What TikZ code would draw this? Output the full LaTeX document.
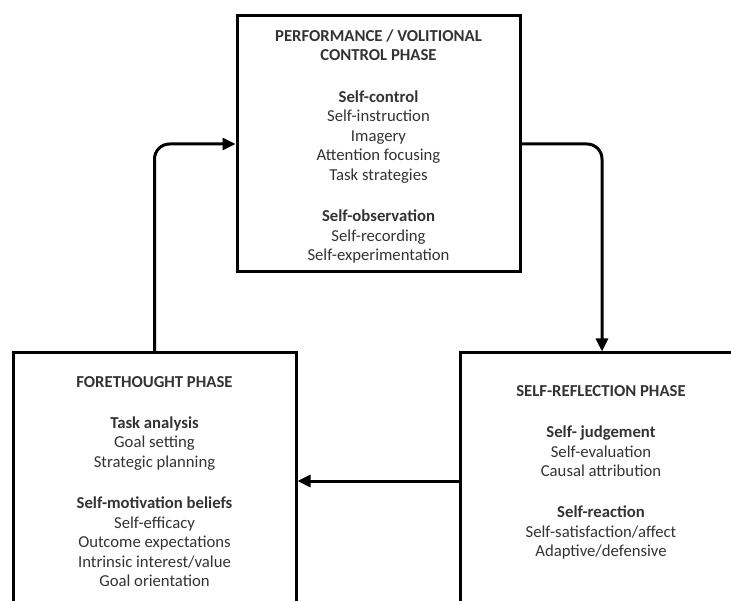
\documentclass[tikz,border=0pt]{standalone}
\usepackage{fontspec}
\setmainfont{Carlito}
\usetikzlibrary{arrows.meta}
\definecolor{txt}{RGB}{51,51,51}
\newcommand{\gapline}{\\[21.5pt]}
\begin{document}
\begin{tikzpicture}[x=1pt,y=-1pt,
  box/.style={draw=black,line width=3pt,minimum width=283pt,minimum height=256pt,inner sep=0pt},
  label text/.style={align=center,text=txt,inner sep=0pt,font=\fontsize{16.7}{19.6}\selectfont},
  conn/.style={draw=black,line width=3pt,rounded corners=15pt,-{Triangle[length=13pt,width=12pt]}}]
\useasboundingbox (0,0) rectangle (731,601);
\clip (0,0) rectangle (731,601);
\node[box] (perf) at (378.5,144) {};
\node[box] (fore) at (154.5,481) {};
\node[box] (refl) at (602,481) {};
\node[label text] (perft) at (378.5,146.5) {\textbf{PERFORMANCE / VOLITIONAL}\\\textbf{CONTROL PHASE}\gapline
  \textbf{Self-control}\\Self-instruction\\Imagery\\Attention focusing\\Task strategies\gapline
  \textbf{Self-observation}\\Self-recording\\Self-experimentation};
\node[label text] (foret) at (154.5,481.5) {\textbf{FORETHOUGHT PHASE}\gapline
  \textbf{Task analysis}\\Goal setting\\Strategic planning\gapline
  \textbf{Self-motivation beliefs}\\Self-efficacy\\Outcome expectations\\Intrinsic interest/value\\Goal orientation};
\node[label text] (reflt) at (601,472.5) {\textbf{SELF-REFLECTION PHASE}\gapline
  \textbf{Self- judgement}\\Self-evaluation\\Causal attribution\gapline
  \textbf{Self-reaction}\\Self-satisfaction/affect\\Adaptive/defensive};
\draw[conn] (fore.north) |- (perf.west);
\draw[conn] (perf.east) -| (refl.north);
\draw[conn] (refl.west) -- (fore.east);
\end{tikzpicture}
\end{document}
